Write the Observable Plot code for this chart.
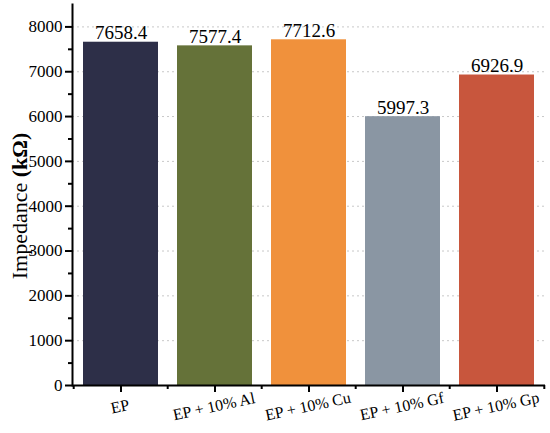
<!DOCTYPE html>
<html><head><meta charset="utf-8">
<script src="https://cdn.jsdelivr.net/npm/d3@7"></script>
<script src="https://cdn.jsdelivr.net/npm/@observablehq/plot@0.6"></script>
<style>body{margin:0;background:#fff} svg{display:block}</style>
</head><body><div id="chart"></div>
<script>
const categories = ["EP", "EP + 10% Al", "EP + 10% Cu", "EP + 10% Gf", "EP + 10% Gp"];
const impedance = [7658.4, 7577.4, 7712.6, 5997.3, 6926.9];
const barColors = ["#2d2f48", "#657239", "#f0913c", "#8a96a3", "#c8563d"];
const yTicks = [0, 1000, 2000, 3000, 4000, 5000, 6000, 7000, 8000];
const yGrid = [1000, 2000, 3000, 4000, 5000, 6000, 7000, 8000];
const yMinorTicks = [500, 1500, 2500, 3500, 4500, 5500, 6500, 7500];
const yTitle = "Impedance";
const yUnit = "(kΩ)";

const data = categories.map((c, i) => ({category: c, value: impedance[i]}));

const W = 550, H = 433, ML = 72, MR = 5, MT = 4, MB = 48;
const step = (W - ML - MR) / categories.length;
const font = "Liberation Serif, Times New Roman, serif";

const plot = Plot.plot({
  width: W, height: H,
  marginLeft: ML, marginRight: MR, marginTop: MT, marginBottom: MB,
  style: {fontFamily: font, background: "#fff", color: "#000"},
  x: {domain: categories, paddingInner: 0.2, paddingOuter: 0.1, axis: null},
  y: {domain: [0, 8500], axis: null},
  color: {domain: categories, range: barColors},
  marks: [
    Plot.gridY(yGrid, {stroke: "#c8c8c8", strokeOpacity: 1, strokeDasharray: "2,3", strokeWidth: 1}),
    Plot.barY(data, {x: "category", y: "value", fill: "category"}),
    Plot.text(data, {x: "category", y: "value", text: d => d.value.toFixed(1), lineAnchor: "bottom", dy: -3, fontSize: 19, fontFamily: font, fill: "#000"}),
    Plot.axisY(yTicks, {label: null, tickSize: 7, strokeWidth: 2, tickFormat: () => ""}),
    Plot.text(yTicks, {y: d => d, text: d => String(d), frameAnchor: "left", textAnchor: "end", dx: -10, fontSize: 17, fontFamily: font, fill: "#000"}),
    Plot.axisY(yMinorTicks, {label: null, tickSize: 4, strokeWidth: 2, tickFormat: () => ""}),
    Plot.axisX(categories, {label: null, tickSize: 7, strokeWidth: 2, tickFormat: () => ""}),
    Plot.axisX(categories, {label: null, tickSize: 4, strokeWidth: 2, tickFormat: () => "", dx: -step / 2}),
    Plot.axisX(categories.slice(-1), {label: null, tickSize: 4, strokeWidth: 2, tickFormat: () => "", dx: step / 2}),
    Plot.text(categories, {x: d => d, frameAnchor: "bottom", dy: 26, rotate: -12, fontSize: 16, fontFamily: font, fill: "#000"}),
    Plot.ruleY([0], {stroke: "#000", strokeWidth: 2}),
    Plot.frame({anchor: "left", stroke: "#000", strokeWidth: 2})
  ]
});

const svg = d3.select(plot);
const t = svg.append("text")
  .attr("transform", `translate(27, 206) rotate(-90)`)
  .attr("text-anchor", "middle")
  .attr("font-family", font)
  .attr("fill", "#000");
t.append("tspan").attr("font-size", 22).text(yTitle + " ");
t.append("tspan").attr("font-size", 22).attr("font-weight", "bold").text(yUnit);

document.getElementById("chart").appendChild(plot);
</script>
</body></html>
